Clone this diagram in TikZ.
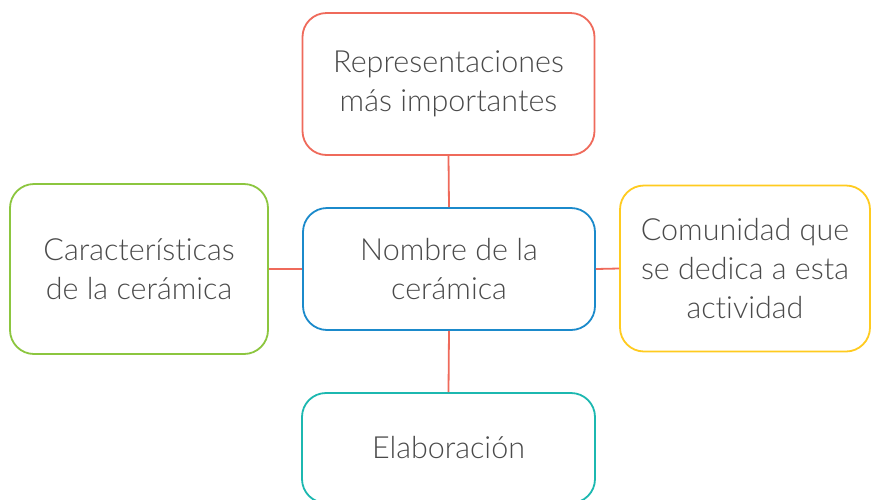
\documentclass[tikz,border=0pt]{standalone}
\usepackage{fontspec}
\setmainfont{Lato Light}[Ligatures={NoCommon}]
\definecolor{cred}{HTML}{EF6A5B}
\definecolor{cblue}{HTML}{1B8ACB}
\definecolor{cgreen}{HTML}{8CC63F}
\definecolor{cyellow}{HTML}{FFCB1F}
\definecolor{cteal}{HTML}{1CB8B0}
\definecolor{ctext}{HTML}{4A4A4A}
\begin{document}
\begin{tikzpicture}[x=1pt,y=-1pt,
  box/.style={draw, line width=1.8pt, rounded corners=24pt, fill=white,
    align=center, text=ctext, inner sep=0pt,
    font=\fontsize{30.5}{39}\selectfont},
  link/.style={draw=cred, line width=1.8pt}]
\clip (0,0) rectangle (871,499);
\fill[white] (0,0) rectangle (871,499);
\node[box, draw=cred, minimum width=292pt, minimum height=142pt] (top) at (448.5,84) {Representaciones\\más importantes};
\node[box, draw=cblue, minimum width=292pt, minimum height=122pt] (mid) at (449,269) {Nombre de la\\cerámica};
\node[box, draw=cgreen, minimum width=258pt, minimum height=170pt] (left) at (139,269) {Características\\de la cerámica};
\node[box, draw=cyellow, minimum width=250pt, minimum height=166pt] (right) at (745,268.5) {Comunidad que\\se dedica a esta\\actividad};
\node[box, draw=cteal, minimum width=293pt, minimum height=110pt] (bot) at (448.5,448) {Elaboración};
\draw[link] (top.south) -- (mid.north);
\draw[link] (mid.south) -- (bot.north);
\draw[link] (left.east) -- (mid.west);
\draw[link] (mid.east) -- (right.west);
\end{tikzpicture}
\end{document}
